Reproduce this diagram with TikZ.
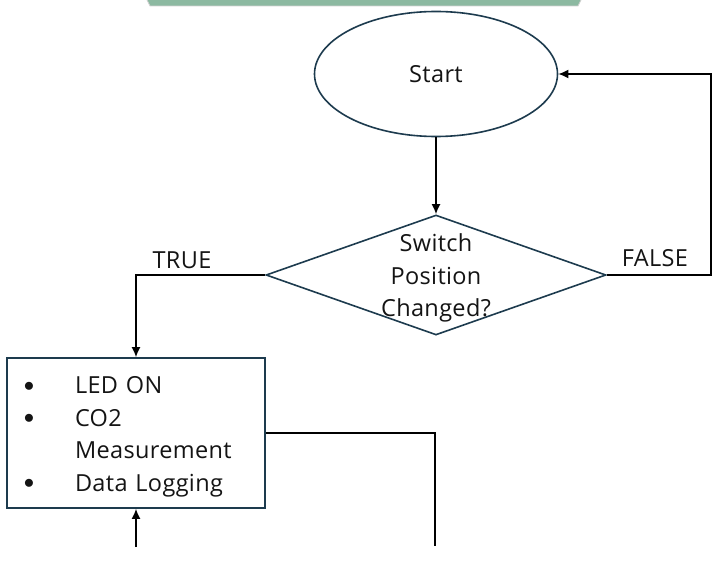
\documentclass[tikz,border=0pt]{standalone}
\usepackage{fontspec}
\setmainfont{Open Sans}[LetterSpace=1.5]
\usetikzlibrary{arrows.meta,shapes.geometric}
\definecolor{colshape}{HTML}{1D3B4E}
\definecolor{colband}{HTML}{8CB9A1}
\colorlet{coltext}{black!92}
\newcommand{\itemmark}{\hspace*{-2pt}\makebox[51pt][l]{\raisebox{2.5pt}{\fontsize{20}{20}\selectfont$\bullet$}}}
\tikzset{
  >=Latex,
  every node/.style={font=\fontsize{23.5}{32.5}\selectfont, text=coltext},
  start box/.style={ellipse, draw=colshape, line width=1.6pt, minimum width=243pt, minimum height=125pt, inner sep=0},
  decision/.style={diamond, draw=colshape, line width=1.6pt, minimum width=340pt, minimum height=120pt, inner sep=0},
  action box/.style={rectangle, draw=colshape, line width=1.6pt, minimum width=258pt, minimum height=150pt, text width=220pt, inner xsep=19pt, align=left},
  flow/.style={-{Latex[length=10pt, width=9pt]}, line width=1.6pt, black},
  wire/.style={line width=1.6pt, black},
}

\begin{document}
\begin{tikzpicture}[x=1pt, y=-1pt]
  \useasboundingbox (0,0) rectangle (722,583);

  % ---- cut-off band at the top edge
  \fill[colband, draw=gray!35, line width=0.8pt] (146,-2) -- (582,-2) -- (578,6) -- (150,6) -- cycle;

  % ---- shapes
  \node[start box] (start) at (436,74) {Start};
  \node[decision, label={[align=center, yshift=-3pt]center:Switch\\Position\\Changed?}] (switch) at (436,275) {};
  \node[action box] (work) at (136,433)
    {\rule{0pt}{25pt}\itemmark LED ON\\ \itemmark CO2\\ \hspace*{49pt}Measurement\\ \itemmark Data Logging};

  % ---- free ends
  \coordinate (outEnd) at (435,546);
  \coordinate (inEnd)  at (136,547);

  % ---- connectors
  \draw[flow] (start) -- (switch);
  \draw[flow] (switch.west) -| (work.north);
  \draw[flow] (switch.east) -- ++(104,0) |- (start.east);
  \draw[wire] (work.east) -| (outEnd);
  \draw[flow] (inEnd) -- (work.south);

  % ---- branch labels
  \node (true)  at (182,260) {TRUE};
  \node (false) at (655,258) {FALSE};

\end{tikzpicture}
\end{document}
